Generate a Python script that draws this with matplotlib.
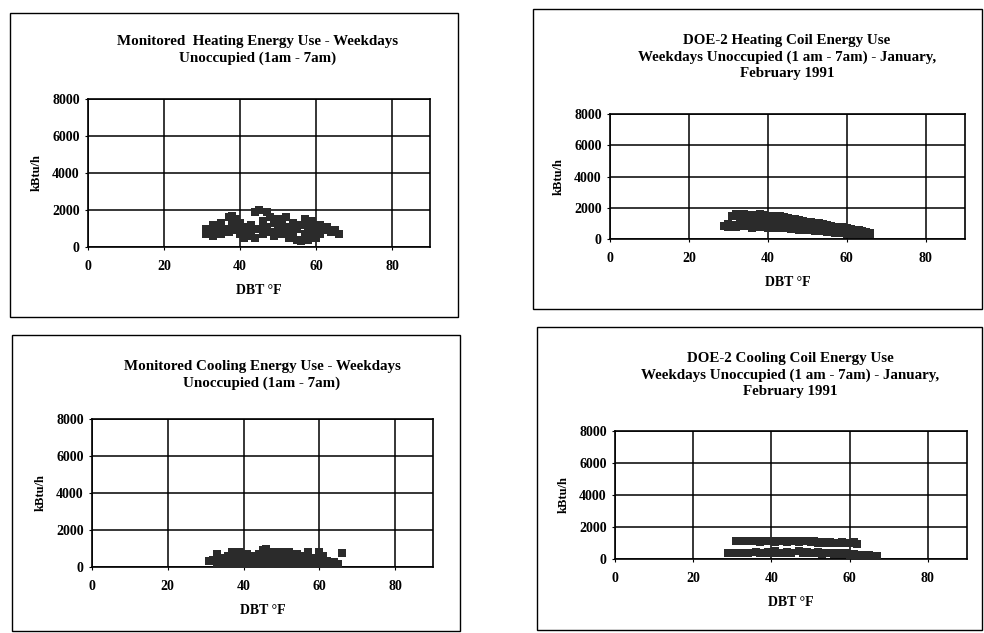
import matplotlib
matplotlib.use("Agg")
import matplotlib.pyplot as plt
from matplotlib.patches import Rectangle

plt.rcParams['font.family'] = ['Liberation Serif', 'DejaVu Serif']
plt.rcParams['font.weight'] = 'bold'

W, H = 984, 633

# --- data (DBT in °F, load in kBtu/h) ---
heat_mon_dbt = [31, 31, 32, 33, 33, 34, 35, 35, 36, 37, 37, 38, 38, 39, 39, 40, 40, 41, 41, 42,
                42, 43, 43, 44, 44, 45, 45, 46, 46, 47, 47, 48, 48, 49, 49, 50, 50, 51, 51, 52,
                52, 53, 53, 54, 54, 55, 55, 56, 56, 57, 57, 58, 58, 59, 59, 60, 60, 61, 61, 62,
                63, 64, 65, 66]
heat_mon_kbtu = [700, 1000, 850, 600, 1200, 900, 1300, 700, 1000, 1600, 800, 1700, 1200, 900, 1500, 700, 1300, 500, 1000, 1100,
                 600, 800, 1200, 500, 1900, 2000, 1000, 1400, 700, 1900, 1100, 1600, 800, 1300, 600, 1500, 1000, 1200, 700, 1600,
                 900, 1100, 500, 800, 1300, 400, 1000, 300, 1200, 1500, 700, 400, 1100, 1400, 800, 500, 1000, 1200, 700, 900,
                 1100, 800, 900, 700]

heat_doe_dbt = [29, 30, 30, 31, 31, 32, 32, 33, 33, 34, 34, 35, 35, 36, 36, 37, 37, 38, 38, 39,
                39, 40, 40, 41, 41, 42, 42, 43, 43, 44, 44, 45, 45, 46, 46, 47, 47, 48, 48, 49,
                49, 50, 50, 51, 51, 52, 52, 53, 53, 54, 54, 55, 55, 56, 56, 57, 57, 58, 58, 59,
                59, 60, 60, 61, 61, 62, 62, 63, 64, 64, 65, 66, 66]
heat_doe_kbtu = [850, 800, 950, 1500, 900, 1600, 800, 1550, 1200, 1600, 850, 1500, 1100, 1550, 700, 1500, 1000, 1600, 750, 1550,
                 1200, 1500, 700, 1450, 1000, 1500, 700, 1450, 1100, 1400, 700, 1350, 900, 1300, 650, 1250, 900, 1200, 600, 1150,
                 850, 1100, 550, 1100, 800, 1050, 500, 1000, 750, 950, 500, 900, 450, 850, 650, 800, 400, 750, 550, 750,
                 400, 700, 350, 650, 500, 600, 350, 550, 500, 300, 450, 400, 300]

cool_mon_dbt = [31, 32, 33, 33, 34, 34, 35, 36, 36, 37, 37, 38, 38, 39, 39, 40, 40, 41, 41, 42,
                42, 43, 43, 44, 44, 45, 45, 46, 46, 47, 47, 48, 48, 49, 49, 50, 50, 51, 51, 52,
                52, 53, 53, 54, 54, 55, 55, 56, 56, 57, 57, 58, 58, 59, 59, 60, 60, 61, 61, 62,
                63, 64, 65, 66]
cool_mon_kbtu = [300, 400, 200, 700, 500, 100, 300, 600, 100, 800, 300, 500, 150, 800, 300, 600, 100, 400, 700, 200,
                 500, 600, 100, 400, 700, 900, 200, 950, 500, 700, 100, 800, 400, 600, 200, 800, 300, 700, 100, 800,
                 400, 600, 200, 700, 100, 500, 300, 600, 100, 800, 300, 500, 100, 400, 200, 800, 300, 600, 100, 300,
                 200, 250, 150, 750]

cool_doe_dbt = [31, 32, 33, 34, 35, 36, 37, 38, 39, 40, 41, 42, 43, 44, 45, 46, 47, 48, 49, 50,
                51, 52, 53, 54, 55, 56, 57, 58, 59, 60, 61, 62,
                29, 30, 31, 32, 33, 34, 36, 37, 38, 39, 40, 41, 42, 43, 44, 45, 47, 48, 49, 50,
                51, 52, 53, 54, 55, 56, 57, 58, 59, 60, 61, 62, 63, 64, 65, 66, 67]
cool_doe_kbtu = [1150, 1100, 1150, 1100, 1100, 1150, 1050, 1100, 1150, 1100, 1050, 1100, 1100, 1050, 1100, 1100, 1050, 1100, 1100, 1050,
                 1100, 1000, 1050, 1000, 1050, 1000, 1000, 1050, 1000, 1000, 1050, 950,
                 400, 350, 400, 350, 400, 350, 450, 400, 350, 450, 400, 500, 350, 400, 450, 400, 500, 400, 450, 350,
                 400, 450, 300, 400, 350, 300, 400, 300, 350, 250, 300, 250, 250, 200, 250, 200, 200]

x_ticks = [0, 20, 40, 60, 80]
y_ticks = [0, 2000, 4000, 6000, 8000]

panels = [
    # title, x, y, axes box (px: left, top, right, bottom), frame box, title centre
    ("Monitored  Heating Energy Use - Weekdays\nUnoccupied (1am - 7am)",
     heat_mon_dbt, heat_mon_kbtu, (88, 99, 430, 247), (10, 13, 458, 317), (258, 50)),
    ("DOE-2 Heating Coil Energy Use\nWeekdays Unoccupied (1 am - 7am) - January,\nFebruary 1991",
     heat_doe_dbt, heat_doe_kbtu, (610, 114, 965, 239), (533, 9, 982, 309), (787, 57)),
    ("Monitored Cooling Energy Use - Weekdays\nUnoccupied (1am - 7am)",
     cool_mon_dbt, cool_mon_kbtu, (92, 419, 433, 567), (12, 335, 460, 631), (262, 375)),
    ("DOE-2 Cooling Coil Energy Use\nWeekdays Unoccupied (1 am - 7am) - January,\nFebruary 1991",
     cool_doe_dbt, cool_doe_kbtu, (615, 431, 967, 559), (537, 327, 982, 630), (790, 375)),
]

fig = plt.figure(figsize=(W / 100, H / 100), dpi=100)
fig.patch.set_facecolor("white")

for title, xs, ys, box, frame, tpos in panels:
    l, t, r, b = box
    ax = fig.add_axes([l / W, 1 - b / H, (r - l) / W, (b - t) / H])
    ax.scatter(xs, ys, marker="s", s=38, color="#2b2b2b", linewidths=0, zorder=3)
    ax.set_xlim(0, 90)
    ax.set_ylim(0, 8000)
    ax.set_xticks(x_ticks)
    ax.set_yticks(y_ticks)
    ax.set_axisbelow(True)
    ax.grid(True, color="black", lw=1.1)
    for sp in ax.spines.values():
        sp.set_color("black")
        sp.set_linewidth(1.2)
    ax.tick_params(axis="both", length=2, width=0.8, labelsize=10)
    ax.tick_params(axis="x", pad=7)
    ax.tick_params(axis="y", pad=4)
    ax.set_xlabel("DBT °F", fontsize=10, fontweight="bold", labelpad=8)
    ax.set_ylabel("kBtu/h", fontsize=9, fontweight="bold", labelpad=7)

    fl, ft, fr, fb = frame
    fig.patches.append(Rectangle((fl / W, 1 - fb / H), (fr - fl) / W, (fb - ft) / H,
                                 transform=fig.transFigure, fill=False,
                                 edgecolor="black", lw=1.0))
    fig.text(tpos[0] / W, 1 - tpos[1] / H, title, ha="center", va="center",
             fontsize=10.8, fontweight="bold", linespacing=1.3)

fig.savefig("out.png", dpi=100)
